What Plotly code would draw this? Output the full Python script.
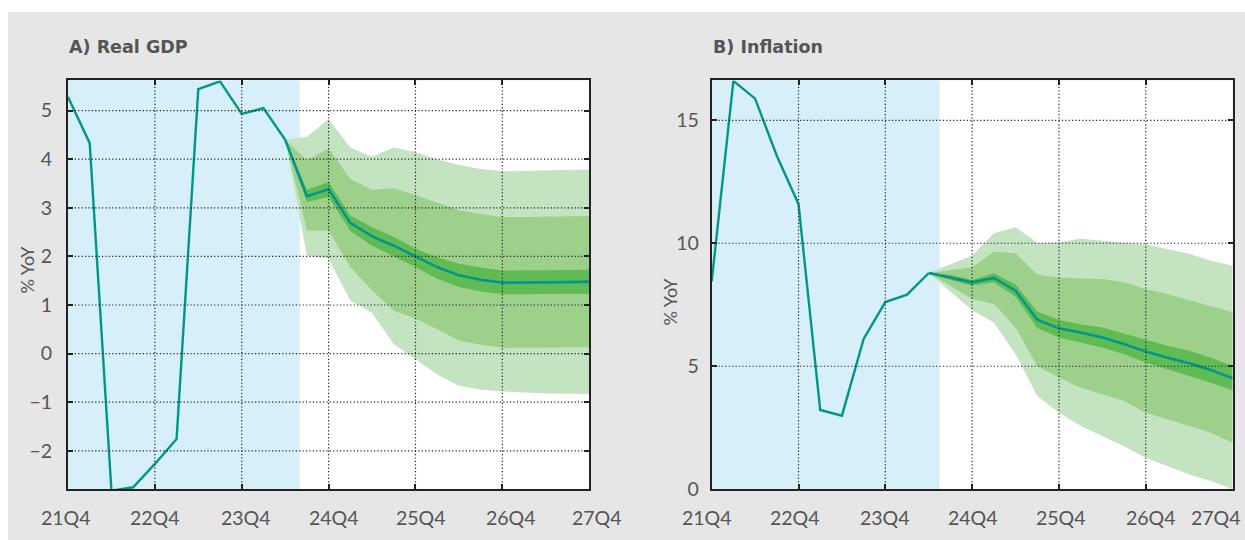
import plotly.graph_objects as go

# ---------------- data ----------------
QUARTER_LABELS = ["21Q4", "22Q4", "23Q4", "24Q4", "25Q4", "26Q4", "27Q4"]
QUARTER_TICKS = [0, 4, 8, 12, 16, 20, 24]          # quarter index of each label
HIST_X = list(range(0, 11))                        # 21Q4 .. 24Q2
FC_X = list(range(10, 25))                         # 24Q2 .. 27Q4

GDP_SHADE_END = 10.67
INF_SHADE_END = 10.5

gdp_hist = [5.28, 4.33, -2.82, -2.75, -2.27, -1.76, 5.44, 5.60, 4.93, 5.05, 4.40]
gdp_median = [4.40, 3.24, 3.38, 2.69, 2.41, 2.22, 2.00, 1.78, 1.61, 1.52, 1.46, 1.46, 1.46, 1.47, 1.48]
gdp_in_hi = [4.40, 3.37, 3.53, 2.84, 2.60, 2.40, 2.16, 1.98, 1.85, 1.77, 1.71, 1.71, 1.72, 1.72, 1.73]
gdp_in_lo = [4.40, 3.12, 3.22, 2.52, 2.22, 2.00, 1.78, 1.54, 1.37, 1.28, 1.22, 1.22, 1.22, 1.23, 1.23]
gdp_mid_hi = [4.40, 3.98, 4.22, 3.59, 3.37, 3.40, 3.26, 3.11, 2.95, 2.87, 2.81, 2.81, 2.82, 2.82, 2.83]
gdp_mid_lo = [4.40, 2.53, 2.53, 1.78, 1.30, 0.88, 0.72, 0.50, 0.27, 0.18, 0.12, 0.12, 0.12, 0.13, 0.13]
gdp_out_hi = [4.40, 4.46, 4.82, 4.24, 4.05, 4.24, 4.15, 4.00, 3.88, 3.80, 3.75, 3.76, 3.77, 3.78, 3.79]
gdp_out_lo = [4.40, 2.02, 1.95, 1.09, 0.84, 0.20, -0.11, -0.43, -0.66, -0.74, -0.78, -0.80, -0.82, -0.83, -0.83]
GDP_YTICKS = [-2, -1, 0, 1, 2, 3, 4, 5]
GDP_RANGE = [-2.79, 5.62]

inf_hist = [8.45, 16.60, 15.88, 13.56, 11.59, 3.22, 2.99, 6.11, 7.61, 7.91, 8.79]
inf_median = [8.79, 8.61, 8.41, 8.59, 8.07, 6.89, 6.54, 6.37, 6.17, 5.90, 5.60, 5.35, 5.12, 4.85, 4.51]
inf_in_hi = [8.79, 8.72, 8.51, 8.78, 8.32, 7.23, 6.88, 6.71, 6.58, 6.33, 6.07, 5.83, 5.63, 5.35, 5.01]
inf_in_lo = [8.79, 8.52, 8.27, 8.41, 7.83, 6.55, 6.17, 5.96, 5.76, 5.49, 5.15, 4.88, 4.61, 4.33, 4.02]
inf_mid_hi = [8.79, 8.90, 9.02, 9.66, 9.59, 8.72, 8.61, 8.57, 8.55, 8.41, 8.14, 7.94, 7.69, 7.46, 7.19]
inf_mid_lo = [8.79, 8.26, 7.73, 7.53, 6.58, 5.01, 4.54, 4.13, 3.86, 3.59, 3.11, 2.84, 2.57, 2.30, 1.89]
inf_out_hi = [8.79, 9.13, 9.50, 10.41, 10.65, 10.01, 10.04, 10.18, 10.11, 10.04, 9.95, 9.77, 9.57, 9.29, 9.09]
inf_out_lo = [8.79, 8.04, 7.28, 6.78, 5.49, 3.79, 3.11, 2.57, 2.16, 1.75, 1.28, 0.94, 0.60, 0.33, 0.00]
INF_YTICKS = [0, 5, 10, 15]
INF_RANGE = [0, 16.62]

# ---------------- style ----------------
W, H = 1245, 540            # reference picture size (layout fractions are based on it)
FIG_H = 552                 # page height that the photograph covers
FONT = "Lato"
TITLE_FONT = "DejaVu Sans"
TXT = "#555555"
LINE_C = "#00968c"
C_OUT, C_MID, C_IN = "#c4e3c0", "#9dd08a", "#61bb54"
SHADE_C = "#d6eff9"
GRID_C = "#222222"


def px(x):
    return x / W


def py(y):
    return 1 - y / H


fig = go.Figure()


def add_panel(xa, ya, hist, med, bands):
    for lo, hi, col in bands:
        fig.add_trace(go.Scatter(
            x=FC_X + FC_X[::-1], y=hi + lo[::-1], fill="toself", fillcolor=col,
            line=dict(width=0), mode="lines", hoverinfo="skip", showlegend=False,
            xaxis=xa, yaxis=ya))
    fig.add_trace(go.Scatter(x=HIST_X, y=hist, mode="lines",
                             line=dict(color=LINE_C, width=2.4),
                             hoverinfo="skip", showlegend=False, xaxis=xa, yaxis=ya))
    fig.add_trace(go.Scatter(x=FC_X, y=med, mode="lines",
                             line=dict(color=LINE_C, width=2.6),
                             hoverinfo="skip", showlegend=False, xaxis=xa, yaxis=ya))


add_panel("x", "y", gdp_hist, gdp_median,
          [(gdp_out_lo, gdp_out_hi, C_OUT), (gdp_mid_lo, gdp_mid_hi, C_MID), (gdp_in_lo, gdp_in_hi, C_IN)])
add_panel("x2", "y2", inf_hist, inf_median,
          [(inf_out_lo, inf_out_hi, C_OUT), (inf_mid_lo, inf_mid_hi, C_MID), (inf_in_lo, inf_in_hi, C_IN)])

shapes = []
# white margins outside the grey panel
shapes.append(dict(type="rect", xref="paper", yref="paper", x0=0, x1=1, y0=py(12), y1=1,
                   fillcolor="white", line=dict(width=0), layer="below"))
shapes.append(dict(type="rect", xref="paper", yref="paper", x0=0, x1=px(8), y0=0, y1=1,
                   fillcolor="white", line=dict(width=0), layer="below"))
# history shading
for xr, yr, end in (("x", "y domain", GDP_SHADE_END), ("x2", "y2 domain", INF_SHADE_END)):
    shapes.append(dict(type="rect", xref=xr, yref=yr, x0=0, x1=end, y0=0, y1=1,
                       fillcolor=SHADE_C, line=dict(width=0), layer="below"))

# dotted grid drawn above the fan
grid_line = dict(color=GRID_C, width=1.2, dash="1.2px,2.2px")
for xr, ydom, xdom, yr, yticks, yrng in (("x", "y domain", "x domain", "y", GDP_YTICKS, GDP_RANGE),
                                        ("x2", "y2 domain", "x2 domain", "y2", INF_YTICKS, INF_RANGE)):
    for v in QUARTER_TICKS[1:-1]:
        shapes.append(dict(type="line", xref=xr, yref=ydom, x0=v, x1=v, y0=0, y1=1,
                           line=grid_line, layer="above"))
    for v in yticks:
        if yrng[0] < v < yrng[1]:
            shapes.append(dict(type="line", xref=xdom, yref=yr, x0=0, x1=1, y0=v, y1=v,
                               line=grid_line, layer="above"))

annotations = []
# panel titles
annotations.append(dict(text="A) Real GDP", xref="paper", yref="paper", x=px(67), y=py(47),
                        xanchor="left", yanchor="middle", showarrow=False,
                        font=dict(family=TITLE_FONT, size=17.5, color="#555555", weight="bold")))
annotations.append(dict(text="B) Inflation", xref="paper", yref="paper", x=px(711), y=py(47),
                        xanchor="left", yanchor="middle", showarrow=False,
                        font=dict(family=TITLE_FONT, size=17.5, color="#555555", weight="bold")))
# y axis titles
annotations.append(dict(text="% YoY", xref="paper", yref="paper", x=px(27), y=py(269),
                        textangle=-90, showarrow=False, xanchor="center", yanchor="middle",
                        font=dict(family=FONT, size=18, color=TXT)))
annotations.append(dict(text="% YoY", xref="paper", yref="paper", x=px(670), y=py(301),
                        textangle=-90, showarrow=False, xanchor="center", yanchor="middle",
                        font=dict(family=FONT, size=18, color=TXT)))
# x tick labels
left_shift = [-2, 0, 4, 5, 6, 9, 8]
right_shift = [-5, -4, 0, 1, 2, 5, -17]
for xr, shifts in (("x", left_shift), ("x2", right_shift)):
    for v, lab, s in zip(QUARTER_TICKS, QUARTER_LABELS, shifts):
        annotations.append(dict(text=lab, xref=xr, yref="paper", x=v, y=py(517),
                                xanchor="center", yanchor="middle", xshift=s, showarrow=False,
                                font=dict(family=FONT, size=19.5, color=TXT)))

axis_common = dict(showline=True, linecolor="#222222", linewidth=2, mirror="ticks",
                   ticks="inside", ticklen=5, tickwidth=1.5, tickcolor="#222222",
                   showgrid=False, zeroline=False, layer="above traces")

fig.update_layout(
    width=W, height=FIG_H, margin=dict(l=0, r=0, t=0, b=0),
    paper_bgcolor="#e6e6e6", plot_bgcolor="white",
    font=dict(family=FONT, size=19.5, color=TXT),
    xaxis=dict(domain=[px(68), px(589.2)], range=[0, 24], anchor="y",
               tickvals=QUARTER_TICKS, showticklabels=False, **axis_common),
    yaxis=dict(domain=[py(488.3), py(80.3)], range=GDP_RANGE, anchor="x",
               tickvals=GDP_YTICKS, ticklabelstandoff=10,
               tickfont=dict(family=FONT, size=19.5, color=TXT), **axis_common),
    xaxis2=dict(domain=[px(711.7), px(1232.6)], range=[0, 24], anchor="y2",
                tickvals=QUARTER_TICKS, showticklabels=False, **axis_common),
    yaxis2=dict(domain=[py(488.3), py(80.3)], range=INF_RANGE, anchor="x2",
                tickvals=INF_YTICKS, ticklabelstandoff=7,
                tickfont=dict(family=FONT, size=19.5, color=TXT), **axis_common),
    shapes=shapes, annotations=annotations,
)

POST = (
    "var de=document.documentElement, b=document.body;"
    "de.style.margin='0';de.style.padding='0';de.style.overflow='hidden';"
    "b.style.margin='0';b.style.padding='0';b.style.overflow='hidden';"
    "var gd=document.getElementById('{plot_id}');"
    "gd.style.position='fixed';gd.style.left='0px';gd.style.top='0px';"
)

fig.write_html("out.html", config={"displayModeBar": False}, post_script=POST)
